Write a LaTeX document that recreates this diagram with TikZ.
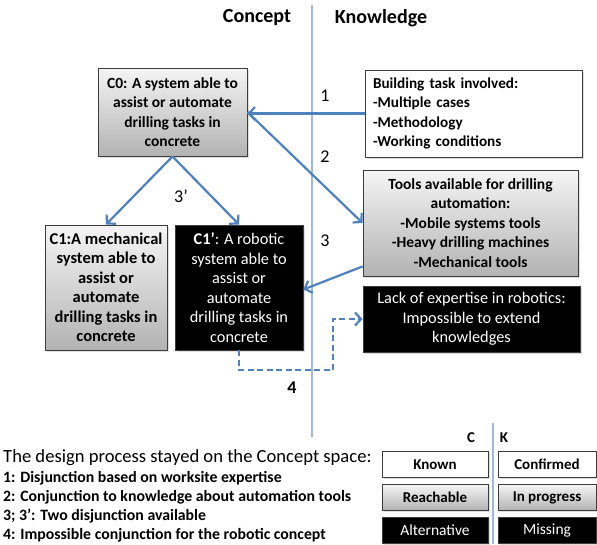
\documentclass[tikz,border=0pt]{standalone}
\usepackage{fontspec}
\setmainfont{Carlito}
\usetikzlibrary{arrows.meta,shadows}
\definecolor{oblue}{RGB}{79,129,189}
\definecolor{vline}{RGB}{160,185,215}
\definecolor{bord}{RGB}{60,60,60}
\newcommand\fs[1]{\fontsize{#1}{19.5}\selectfont}
\newcommand\legfont{\fontsize{15.8}{19}\selectfont\bfseries}
\begin{document}
\begin{tikzpicture}[x=1pt,y=-1pt,
  box/.style={draw=bord, line width=0.9pt, inner sep=0pt, align=center,
    drop shadow={opacity=0.25, shadow xshift=1.5pt, shadow yshift=-1.5pt}},
  graybox/.style={box, top color=white!96!black, bottom color=black!30},
  whitebox/.style={box, fill=white},
  blackbox/.style={box, fill=black, text=white},
  arr/.style={draw=oblue, line width=2.2pt, -{Straight Barb[length=6pt,width=13pt,line width=2.2pt]}},
  dasharr/.style={arr, dash pattern=on 6pt off 3.5pt},
  lbl/.style={font=\fontsize{18}{20}\selectfont},
  hdr/.style={font=\fontsize{20}{22}\selectfont\bfseries},
  legbox/.style={box, minimum height=26pt, font=\fontsize{15}{17}\selectfont\bfseries}]
\useasboundingbox (0,0) rectangle (597,544);
\fill[white] (0,0) rectangle (597,544);
% divider
\coordinate (vt) at (312,5);
\coordinate (vb) at (312,437);
\draw[vline, line width=1.2pt] (vt) -- (vb);
\node[hdr] (hc) at (257,18) {Concept};
\node[hdr] (hk) at (381,18) {Knowledge};
% boxes
\node[graybox, minimum width=149pt, minimum height=88pt, font=\fs{15.5}\bfseries] (c0) at (172.5,112)
  {C0: A system able to\\assist or automate\\drilling tasks in\\concrete};
\node[whitebox, minimum width=217pt, minimum height=87pt, align=left, text width=201pt, font=\fs{15.2}\bfseries] (build) at (473.5,113.5)
  {Building task involved:\\-Multiple cases\\-Methodology\\-Working conditions};
\node[graybox, minimum width=215pt, minimum height=106pt, font=\fs{15.5}\bfseries] (tools) at (470.5,223)
  {Tools available for drilling\\automation:\\-Mobile systems tools\\-Heavy drilling machines\\-Mechanical tools};
\node[blackbox, minimum width=217pt, minimum height=66pt, font=\fs{16.3}] (lack) at (471.5,319)
  {Lack of expertise in robotics:\\Impossible to extend\\knowledges};
\node[graybox, minimum width=122pt, minimum height=125pt, font=\fs{16.5}\bfseries] (c1) at (106,287.5)
  {C1:A mechanical\\system able to\\assist or\\automate\\drilling tasks in\\concrete};
\node[blackbox, minimum width=128pt, minimum height=125pt, font=\fs{16.3}] (c1p) at (239,287.5)
  {\textbf{C1’}: A robotic\\system able to\\assist or\\automate\\drilling tasks in\\concrete};
% arrows
\draw[arr] (build.west) -- (build.west -| c0.east);
\draw[arr] (c0.east) -- (tools.west);
\path (tools.south west) ++(0,-10) coordinate (t3);
\path (c1p.east) ++(0,2) coordinate (c3);
\draw[arr] (t3) -- (c3);
\draw[arr] (c0.south) -- (c1.north);
\draw[arr] (c0.south) -- (c1p.north);
\coordinate (k4) at (333,370);
\draw[dasharr] (c1p.south) |- (k4) |- (lack.west);
% labels
\node[lbl] (l1) at (325,96) {1};
\node[lbl] (l2) at (325,157) {2};
\node[lbl] (l3) at (325,241) {3};
\node[lbl] (l3p) at (181,196) {3’};
\node[lbl, font=\fontsize{18}{20}\selectfont\bfseries] (l4) at (292,388) {4};
% legend text
\node[anchor=west, inner sep=0pt, font=\fontsize{18.6}{20}\selectfont] (lt) at (3,458) {The design process stayed on the Concept space:};
\node[anchor=west, inner sep=0pt, font=\legfont] (li1) at (3,478) {1: Disjunction based on worksite expertise};
\node[anchor=west, inner sep=0pt, font=\legfont] (li2) at (3,497) {2: Conjunction to knowledge about automation tools};
\node[anchor=west, inner sep=0pt, font=\legfont] (li3) at (3,516) {3; 3’: Two disjunction available};
\node[anchor=west, inner sep=0pt, font=\legfont] (li4) at (3,535) {4: Impossible conjunction for the robotic concept};
% legend boxes
\coordinate (lvt) at (493,423);
\coordinate (lvb) at (493,544);
\draw[vline, line width=1.2pt] (lvt) -- (lvb);
\node[font=\fontsize{15}{17}\selectfont\bfseries] (lc) at (471,438) {C};
\node[font=\fontsize{15}{17}\selectfont\bfseries] (lk) at (504,438) {K};
\node[legbox, fill=white, minimum width=106pt] (kn) at (435,464.5) {Known};
\node[legbox, top color=white!96!black, bottom color=black!30, minimum width=106pt] (re) at (435,497.5) {Reachable};
\node[legbox, fill=black, text=white, minimum width=106pt, font=\fontsize{15.5}{17}\selectfont] (al) at (435,530) {Alternative};
\node[legbox, fill=white, minimum width=98pt] (co) at (547,464.5) {Confirmed};
\node[legbox, top color=white!96!black, bottom color=black!30, minimum width=98pt] (ip) at (547,497.5) {In progress};
\node[legbox, fill=black, text=white, minimum width=98pt, font=\fontsize{15.5}{17}\selectfont] (mi) at (547,530) {Missing};
\end{tikzpicture}
\end{document}
